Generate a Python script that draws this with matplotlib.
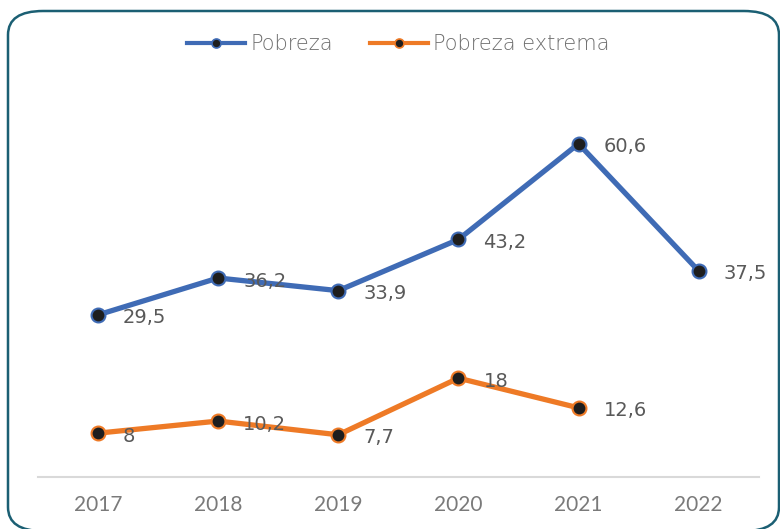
import matplotlib
matplotlib.use("Agg")
import matplotlib.pyplot as plt
from matplotlib.patches import FancyBboxPatch

years = ["2017", "2018", "2019", "2020", "2021", "2022"]
pobreza = [29.5, 36.2, 33.9, 43.2, 60.6, 37.5]
pobreza_extrema = [8, 10.2, 7.7, 18, 12.6]

blue = "#3F6BB5"
orange = "#EE7A26"
label_grey = "#595959"
light_grey = "#7A7A7A"

plt.rcParams["font.family"] = ["DejaVu Sans"]

fig = plt.figure(figsize=(7.8, 5.29), dpi=100)
ax = fig.add_axes([0.0487, 0.098, 0.924, 0.728])

x = list(range(len(years)))
ax.plot(x, pobreza, color=blue, lw=3.8, marker="o", ms=10,
        mfc="#1E1E1E", mec=blue, mew=1.5, zorder=3)
ax.plot(x[:len(pobreza_extrema)], pobreza_extrema, color=orange, lw=3.8,
        marker="o", ms=10, mfc="#1E1E1E", mec=orange, mew=1.5, zorder=3)

# smaller copies of the line style for the legend keys
h1, = ax.plot([], [], color=blue, lw=3, marker="o", ms=6.5,
              mfc="#1E1E1E", mec=blue, mew=1.2, label="Pobreza")
h2, = ax.plot([], [], color=orange, lw=3, marker="o", ms=6.5,
              mfc="#1E1E1E", mec=orange, mew=1.2, label="Pobreza extrema")

def fmt(v):
    return ("%g" % v).replace(".", ",")

for xs, ys in [(x, pobreza), (x, pobreza_extrema)]:
    for xi, yi in zip(xs, ys):
        ax.annotate(fmt(yi), (xi, yi), xytext=(25, -3),
                    textcoords="offset pixels", ha="left", va="center",
                    fontsize=14, color=label_grey, zorder=4)

ax.set_xlim(-0.5, len(years) - 0.5)
ax.set_ylim(0, 70)
ax.set_xticks(x)
ax.set_xticklabels(years, fontsize=15, color=light_grey, family="Lato")
ax.tick_params(axis="x", length=0, pad=13)
ax.set_yticks([])
for s in ["top", "right", "left"]:
    ax.spines[s].set_visible(False)
ax.spines["bottom"].set_color("#D9D9D9")
ax.spines["bottom"].set_linewidth(1.5)

leg = ax.legend(handles=[h1, h2], loc="center",
                bbox_to_anchor=(0.5, 1.0 + (92 - 44) / 385.0),
                ncol=2, frameon=False, prop={"size": 15, "weight": "light"},
                handlelength=2.8, handletextpad=0.25, columnspacing=1.75,
                labelcolor="#6E6E6E")

border = FancyBboxPatch((8 / 780, 1 - 531 / 529), 771 / 780, 520 / 529,
                        boxstyle="round,pad=0,rounding_size=0.045",
                        transform=fig.transFigure, fill=False,
                        edgecolor="#1B5F73", lw=1.8, clip_on=False)
fig.patches.append(border)

fig.savefig("out.png", dpi=100)
